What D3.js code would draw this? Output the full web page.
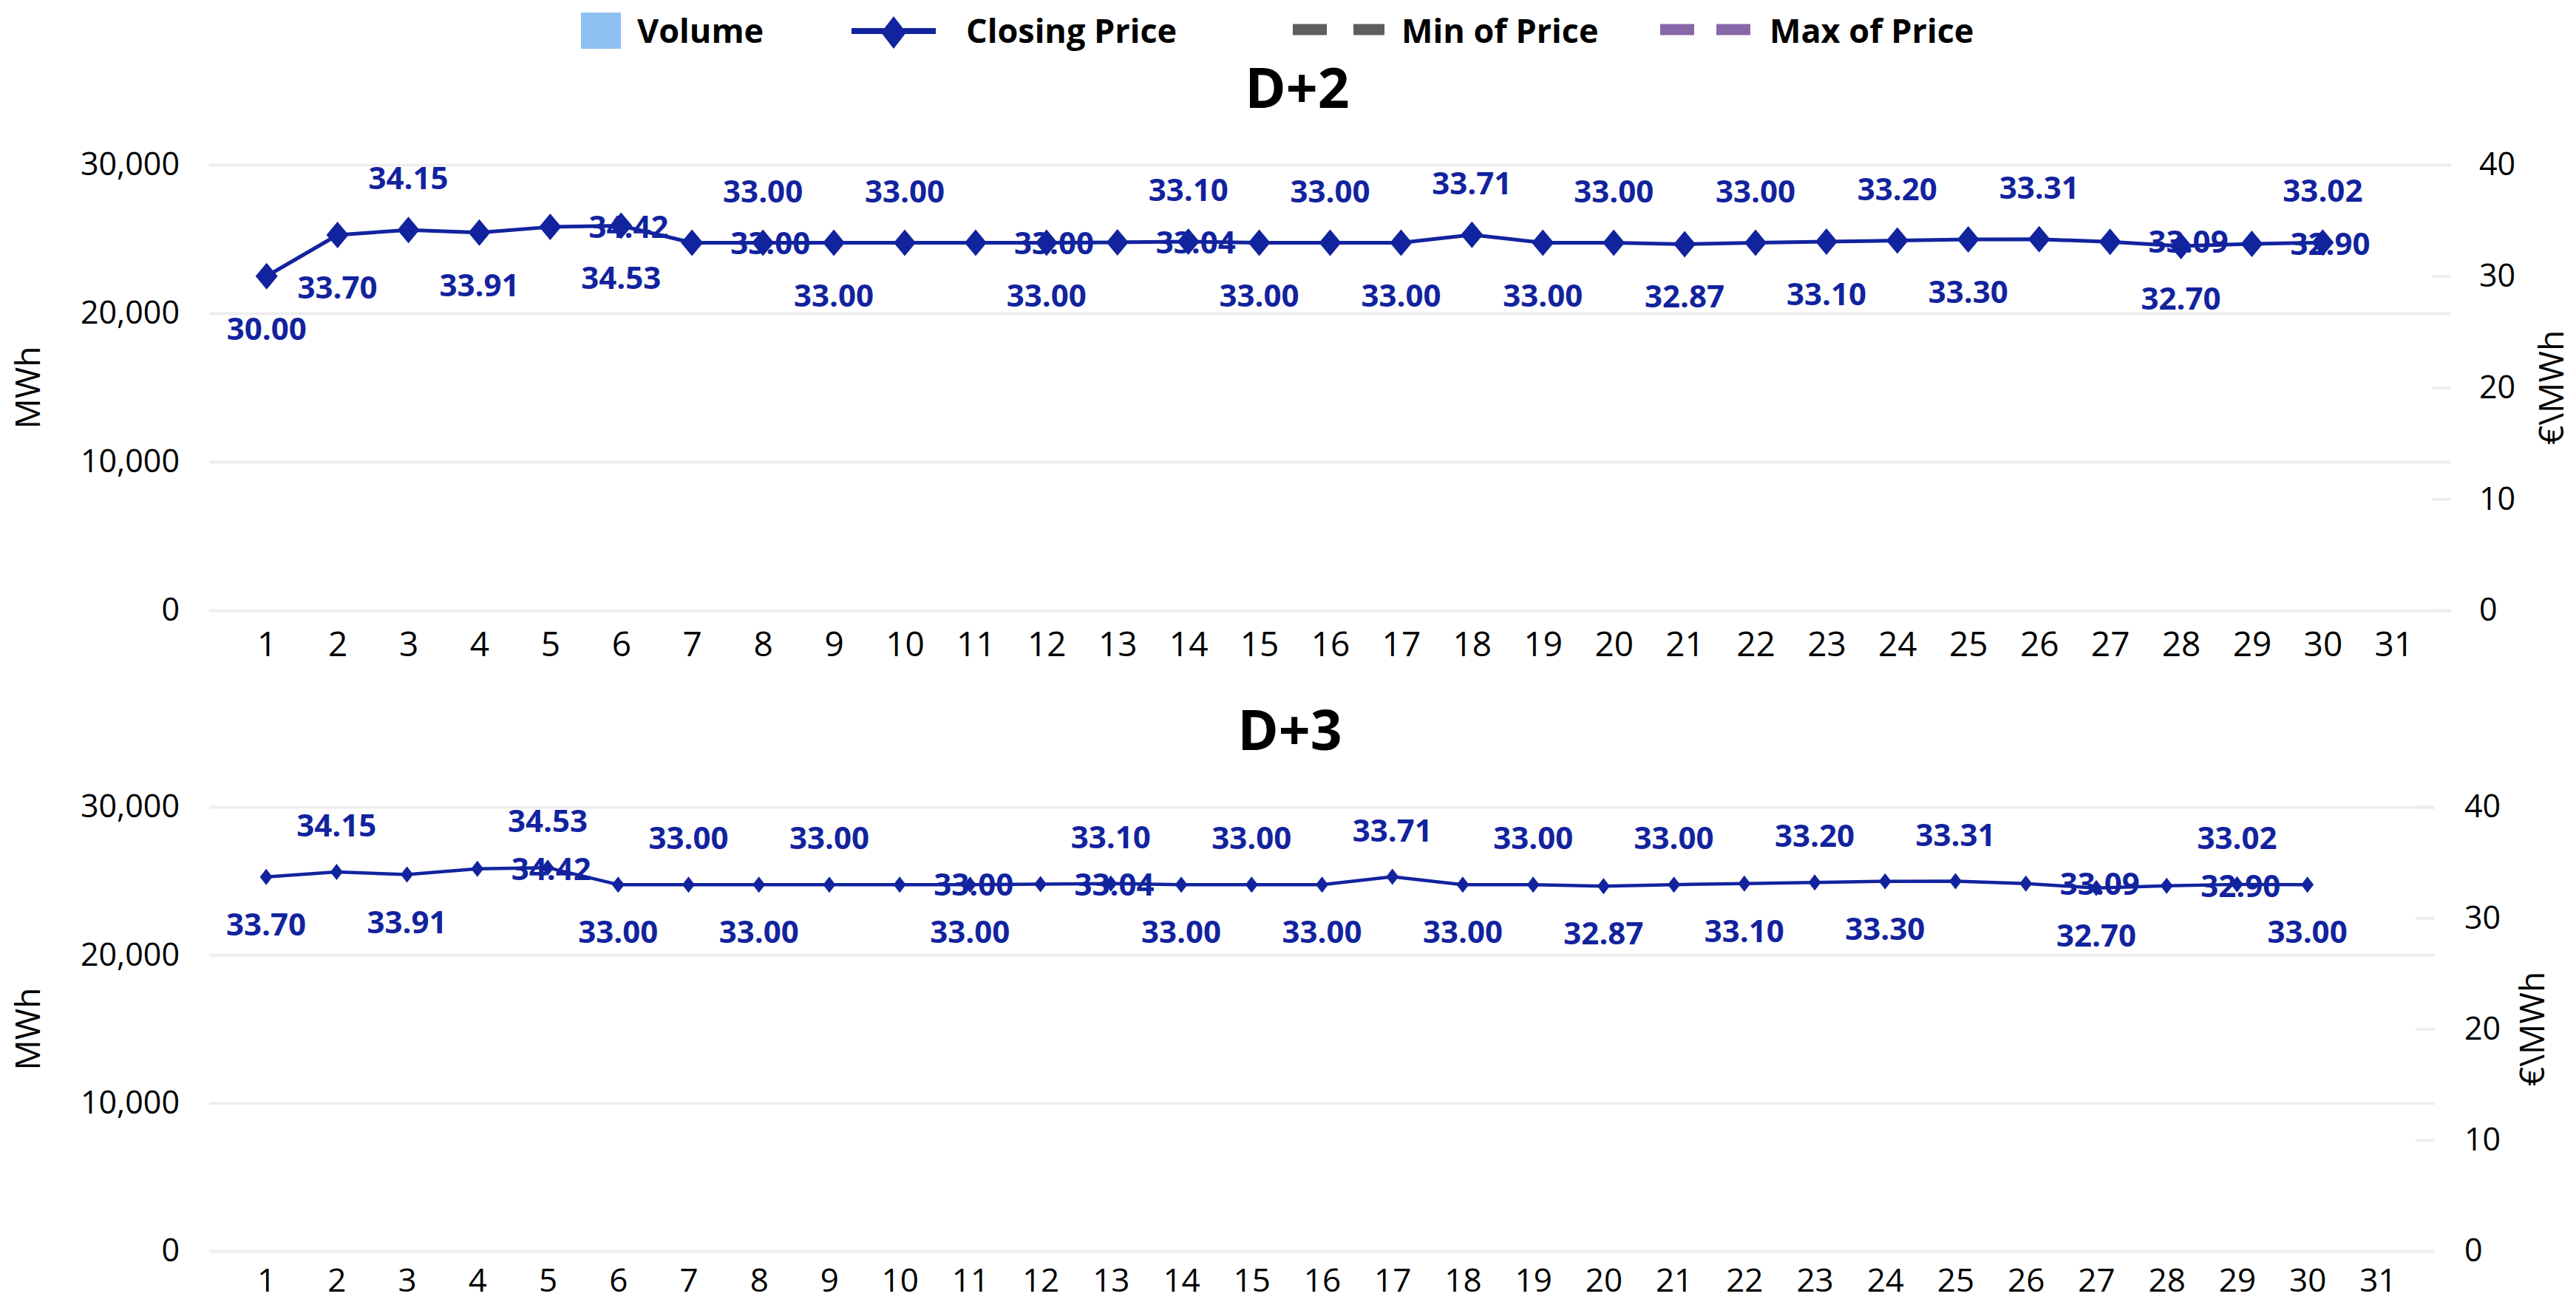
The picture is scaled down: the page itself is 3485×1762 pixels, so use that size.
<!DOCTYPE html>
<html>
<head>
<meta charset="utf-8">
<script src="https://cdn.jsdelivr.net/npm/d3@7"></script>
<style>
  html, body { margin: 0; padding: 0; background: #ffffff; }
  svg { display: block; }
</style>
</head>
<body>
<div id="chart"></div>
<script>
// ---------------- DATA ----------------
const days = d3.range(1, 32); // x categories 1..31
const legendLabels = ["Volume", "Closing Price", "Min of Price", "Max of Price"];
const volumeTicks = [0, 10000, 20000, 30000];
const priceTicks = [0, 10, 20, 30, 40];

// D+2 closing prices (days 1..30)
const d2Close = [30.00, 33.70, 34.15, 33.91, 34.42, 34.53, 33.00, 33.00, 33.00, 33.00,
                 33.00, 33.00, 33.04, 33.10, 33.00, 33.00, 33.00, 33.71, 33.00, 33.00,
                 32.87, 33.00, 33.10, 33.20, 33.30, 33.31, 33.09, 32.70, 32.90, 33.02];
// D+3 closing prices (days 1..30)
const d3Close = [33.70, 34.15, 33.91, 34.42, 34.53, 33.00, 33.00, 33.00, 33.00, 33.00,
                 33.00, 33.04, 33.10, 33.00, 33.00, 33.00, 33.71, 33.00, 33.00, 32.87,
                 33.00, 33.10, 33.20, 33.30, 33.31, 33.09, 32.70, 32.90, 33.02, 33.00];
// Volume (no visible bars in the reference)
const d2Volume = [0,0,0,0,0,0,0,0,0,0,0,0,0,0,0,0,0,0,0,0,0,0,0,0,0,0,0,0,0,0];
const d3Volume = [0,0,0,0,0,0,0,0,0,0,0,0,0,0,0,0,0,0,0,0,0,0,0,0,0,0,0,0,0,0];
// data label placement: a = above, b = below, r = right of marker
const d2LabelPos = ["b","b","a","b","r","b","r","a","b","a","r","b","r","a","b","a","b","a","b","a","b","a","b","a","b","a","r","b","r","a"];
const d3LabelPos = ["b","a","b","r","a","b","a","b","a","r","b","r","a","b","a","b","a","b","a","b","a","b","a","b","a","r","b","r","a","b"];

// ---------------- STYLE ----------------
const W = 3485, H = 1762;
const FONT = "'Open Sans', 'Noto Sans', 'DejaVu Sans', sans-serif";
const C_LINE = "#12239E";
const C_VOL = "#8EC1F1";
const C_MIN = "#605E5C";
const C_MAX = "#8767A8";
const C_GRID = "#EFEEED";

const svg = d3.select("#chart").append("svg")
  .attr("width", W).attr("height", H)
  .attr("viewBox", `0 0 ${W} ${H}`)
  .style("font-family", FONT);
svg.append("rect").attr("width", W).attr("height", H).attr("fill", "#fff");

// ---------------- LEGEND ----------------
const lg = svg.append("g").attr("class", "legend");
const legendText = (x, t) => lg.append("text").attr("x", x).attr("y", 58)
  .attr("font-size", 45).attr("font-weight", 700).attr("fill", "#000").text(t);
// Volume
lg.append("rect").attr("x", 786).attr("y", 17).attr("width", 54).attr("height", 49).attr("fill", C_VOL);
legendText(862, legendLabels[0]);
// Closing price
lg.append("line").attr("x1", 1152).attr("x2", 1266).attr("y1", 42).attr("y2", 42)
  .attr("stroke", C_LINE).attr("stroke-width", 8);
lg.append("path").attr("transform", "translate(1209,44)")
  .attr("d", "M0,-22L17,0L0,22L-17,0Z").attr("fill", C_LINE);
legendText(1307, legendLabels[1]);
// Min of price (dashed)
lg.append("line").attr("x1", 1749).attr("x2", 1873).attr("y1", 40).attr("y2", 40)
  .attr("stroke", C_MIN).attr("stroke-width", 15).attr("stroke-dasharray", "46,36");
legendText(1896, legendLabels[2]);
// Max of price (dashed)
lg.append("line").attr("x1", 2246).attr("x2", 2374).attr("y1", 40).attr("y2", 40)
  .attr("stroke", C_MAX).attr("stroke-width", 15).attr("stroke-dasharray", "46,30");
legendText(2394, legendLabels[3]);

// ---------------- PANELS ----------------
const panels = [
  { title: "D+2", titleX: 1755, titleY: 146, top: 223, bottom: 826, left: 283, right: 3316,
    close: d2Close, volume: d2Volume, pos: d2LabelPos,
    mw: 15, mh: 18, lw: 5, above: 55, below: 86, rightOff: 52,
    yTitleL: 38, yTitleR: 3452, rightLabelPad: 38, xPad: 29, xFont: 46 },
  { title: "D+3", titleX: 1745, titleY: 1015, top: 1092, bottom: 1693, left: 283, right: 3294,
    close: d3Close, volume: d3Volume, pos: d3LabelPos,
    mw: 8.5, mh: 11, lw: 4.5, above: 48, below: 79, rightOff: 46,
    yTitleL: 38, yTitleR: 3426, rightLabelPad: 40, xPad: 24, xFont: 44 }
];

panels.forEach(p => {
  const g = svg.append("g");
  const x = d3.scalePoint().domain(days).range([p.left, p.right]).padding(0.81);
  const yL = d3.scaleLinear().domain([0, 30000]).range([p.bottom, p.top]);
  const yR = d3.scaleLinear().domain([0, 40]).range([p.bottom, p.top]);

  // title
  g.append("text").attr("x", p.titleX).attr("y", p.titleY).attr("text-anchor", "middle")
    .attr("font-size", 75).attr("font-weight", 700).attr("fill", "#000").text(p.title);

  // gridlines (left axis)
  const grid = g.append("g").attr("transform", `translate(${p.left},0)`)
    .call(d3.axisLeft(yL).tickValues(volumeTicks).tickSize(-(p.right - p.left)).tickFormat(""));
  grid.select(".domain").remove();
  grid.selectAll("line").attr("stroke", C_GRID).attr("stroke-width", 4);

  // left axis labels
  const ax = g.append("g").attr("transform", `translate(${p.left},0)`)
    .call(d3.axisLeft(yL).tickValues(volumeTicks).tickFormat(d3.format(",")).tickSize(0).tickPadding(40));
  ax.select(".domain").remove();
  ax.selectAll("text").attr("font-size", 43).attr("fill", "#000").style("font-family", FONT);

  // right axis (with short stubs)
  const axR = g.append("g").attr("transform", `translate(${p.right},0)`)
    .call(d3.axisRight(yR).tickValues(priceTicks).tickSizeInner(-26).tickSizeOuter(0).tickPadding(p.rightLabelPad));
  axR.select(".domain").remove();
  axR.selectAll("line").attr("stroke", C_GRID).attr("stroke-width", 4);
  axR.selectAll("text").attr("font-size", 43).attr("fill", "#000").style("font-family", FONT);

  // bottom axis
  const axB = g.append("g").attr("transform", `translate(0,${p.bottom})`)
    .call(d3.axisBottom(x).tickSize(0).tickPadding(p.xPad));
  axB.select(".domain").remove();
  axB.selectAll("text").attr("font-size", p.xFont).attr("fill", "#000").style("font-family", FONT);

  // axis titles
  g.append("text").attr("transform", `translate(${p.yTitleL},${(p.top + p.bottom) / 2}) rotate(-90)`)
    .attr("text-anchor", "middle").attr("dy", "0.35em").attr("font-size", 46).attr("fill", "#000").text("MWh");
  g.append("text").attr("transform", `translate(${p.yTitleR},${(p.top + p.bottom) / 2}) rotate(-90)`)
    .attr("text-anchor", "middle").attr("dy", "0.35em").attr("font-size", 46).attr("fill", "#000").text("€\\MWh");

  // volume bars (zero)
  const bw = x.step() * 0.6;
  g.append("g").selectAll("rect").data(p.volume).join("rect")
    .attr("x", (d, i) => x(days[i]) - bw / 2).attr("width", bw)
    .attr("y", d => yL(d)).attr("height", d => yL(0) - yL(d)).attr("fill", C_VOL);

  // closing price line
  const pts = p.close.map((v, i) => ({ day: days[i], v, pos: p.pos[i] }));
  g.append("path").datum(pts)
    .attr("d", d3.line().x(d => x(d.day)).y(d => yR(d.v)))
    .attr("fill", "none").attr("stroke", C_LINE).attr("stroke-width", p.lw).attr("stroke-linejoin", "round");

  // markers
  g.append("g").selectAll("path").data(pts).join("path")
    .attr("transform", d => `translate(${x(d.day)},${yR(d.v)})`)
    .attr("d", `M0,${-p.mh}L${p.mw},0L0,${p.mh}L${-p.mw},0Z`)
    .attr("fill", C_LINE);

  // data labels
  const fmt = d3.format(".2f");
  g.append("g").selectAll("text").data(pts).join("text")
    .attr("x", d => d.pos === "r" ? x(d.day) + p.rightOff : x(d.day))
    .attr("y", d => d.pos === "a" ? yR(d.v) - p.above : d.pos === "b" ? yR(d.v) + p.below : yR(d.v))
    .attr("dy", d => d.pos === "r" ? "0.36em" : 0)
    .attr("text-anchor", d => d.pos === "r" ? "start" : "middle")
    .attr("font-size", 42).attr("font-weight", 700).attr("fill", C_LINE)
    .text(d => fmt(d.v));
});
</script>
</body>
</html>
